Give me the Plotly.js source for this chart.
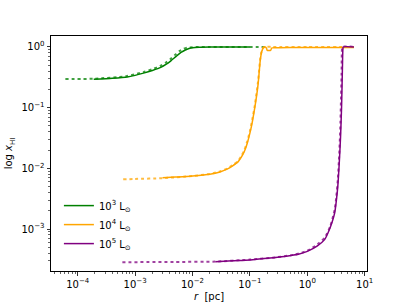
<!DOCTYPE html>
<html><head><meta charset="utf-8">
<script src="https://cdn.plot.ly/plotly-3.0.1.min.js"></script>
<style>html,body{margin:0;padding:0;background:#fff}#chart{width:407px;height:305px}</style>
</head><body><div id="chart"></div>
<script>
// 10^3 Lsun
const r1 = [1.9e-4, 4e-4, 7.3e-4, 1.0e-3, 1.4e-3, 2.0e-3, 2.8e-3, 3.5e-3, 4.2e-3, 5.2e-3, 6.3e-3, 7.5e-3, 8.7e-3, 1.0e-2, 1.3e-2, 0.02, 0.05, 0.1];
const x1 = [0.293, 0.305, 0.32, 0.34, 0.37, 0.41, 0.46, 0.52, 0.59, 0.70, 0.81, 0.89, 0.94, 0.97, 0.99, 1.0, 1.0, 1.0];
const r1d = [6.1e-5, 2e-4, 7e-4, 1.4e-3, 2.0e-3, 2.8e-3, 3.5e-3, 4.2e-3, 5.0e-3, 6.0e-3, 7.0e-3, 8.0e-3, 1.0e-2, 0.02, 0.2];
const x1d = [0.295, 0.30, 0.33, 0.385, 0.43, 0.49, 0.56, 0.64, 0.74, 0.86, 0.93, 0.97, 0.99, 1.0, 1.0];
// 10^4 Lsun
const r2 = [3.0e-3, 5e-3, 0.01, 0.02, 0.03, 0.04, 0.05, 0.062, 0.07, 0.08, 0.09, 0.1, 0.11, 0.12, 0.13, 0.138, 0.145, 0.15, 0.158, 0.166, 0.175, 0.185, 0.195, 0.2, 0.23, 0.24, 0.27, 0.5, 1.0, 6.5];
const x2 = [0.0070, 0.0072, 0.0075, 0.0080, 0.0087, 0.0097, 0.0110, 0.0128, 0.0150, 0.0190, 0.026, 0.038, 0.058, 0.093, 0.15, 0.23, 0.38, 0.55, 0.78, 0.91, 0.99, 1.0, 0.95, 0.88, 0.88, 0.96, 0.97, 0.98, 0.98, 0.98];
const r2d = [6.2e-4, 1e-3, 3.0e-3, 0.01, 0.02, 0.03, 0.04, 0.05, 0.062, 0.07, 0.08, 0.09, 0.1, 0.11, 0.12, 0.13, 0.138, 0.145, 0.15, 0.158, 0.166, 0.18, 0.25, 1.0, 6.5];
const x2d = [0.0066, 0.0067, 0.0069, 0.0075, 0.0081, 0.0089, 0.0099, 0.0113, 0.0132, 0.0157, 0.020, 0.028, 0.041, 0.064, 0.10, 0.17, 0.26, 0.42, 0.60, 0.82, 0.95, 1.0, 1.0, 1.0, 1.0];
// 10^5 Lsun
const r3 = [0.025, 0.05, 0.1, 0.2, 0.4, 0.7, 1.0, 1.5, 2.0, 2.3, 2.7, 3.0, 3.2, 3.4, 3.6, 3.8, 3.95, 4.03, 4.1, 4.17, 4.25, 6.5];
const x3 = [2.9e-4, 3.0e-4, 3.1e-4, 3.3e-4, 3.55e-4, 3.85e-4, 4.3e-4, 5.3e-4, 6.7e-4, 8.7e-4, 1.3e-3, 1.85e-3, 2.9e-3, 5.1e-3, 0.012, 0.034, 0.10, 0.23, 0.5, 0.92, 1.0, 1.0];
const r3d = [6e-4, 0.005, 0.025, 0.1, 0.3, 0.6, 1.0, 1.5, 2.0, 2.5, 3.0, 3.2, 3.4, 3.6, 3.75, 3.85, 3.95, 4.0, 4.1, 6.5];
const x3d = [2.85e-4, 2.88e-4, 2.92e-4, 3.15e-4, 3.45e-4, 3.8e-4, 4.4e-4, 5.6e-4, 7.2e-4, 1.1e-3, 2.1e-3, 3.4e-3, 6.5e-3, 0.017, 0.045, 0.12, 0.35, 0.8, 1.0, 1.0];

const names = ['10<sup>3</sup> L<sub>⊙</sub>', '10<sup>4</sup> L<sub>⊙</sub>', '10<sup>5</sup> L<sub>⊙</sub>'];
const colors = ['green', 'orange', 'purple'];
const xTickVals = [1e-4, 1e-3, 1e-2, 1e-1, 1, 10];
const xTickText = ['10<sup>−4</sup>', '10<sup>−3</sup>', '10<sup>−2</sup>', '10<sup>−1</sup>', '10<sup>0</sup>', '10<sup>1</sup>'];
const yTickVals = [1e-3, 1e-2, 1e-1, 1];
const yTickText = ['10<sup>−3</sup>', '10<sup>−2</sup>', '10<sup>−1</sup>', '10<sup>0</sup>'];

const solids = [[r1, x1], [r2, x2], [r3, x3]];
const dots = [[r1d, x1d], [r2d, x2d], [r3d, x3d]];
const traces = [];
dots.forEach((d, i) => traces.push({x: d[0], y: d[1], mode: 'lines', showlegend: false,
  line: {color: colors[i], width: 2, dash: 'dot', shape: 'spline', smoothing: 0.6}, opacity: 0.75, hoverinfo: 'skip'}));
solids.forEach((d, i) => traces.push({x: d[0], y: d[1], mode: 'lines', name: names[i],
  line: {color: colors[i], width: 1.5, shape: 'spline', smoothing: 0.6}}));

function minorVals(lo, hi) {
  const v = [];
  for (let e = lo; e <= hi; e++) for (let k = 2; k <= 9; k++) v.push(k * Math.pow(10, e));
  return v;
}

const font = {family: 'DejaVu Sans', size: 10, color: '#000'};
const layout = {
  width: 407, height: 305,
  margin: {l: 51, r: 40, t: 36, b: 34},
  paper_bgcolor: '#fff', plot_bgcolor: '#fff',
  font: font,
  showlegend: true,
  legend: {x: 0.025, y: 0.34, xanchor: 'left', yanchor: 'top', bgcolor: 'rgba(0,0,0,0)',
    font: {family: 'DejaVu Sans', size: 10, color: '#000'}, tracegroupgap: 0},
  xaxis: {type: 'log', range: [-4.465, 1.04], showgrid: false, zeroline: false,
    showline: true, mirror: true, linecolor: '#000', linewidth: 1,
    ticks: 'outside', ticklen: 3.5, tickwidth: 0.8, tickcolor: '#000',
    tickvals: xTickVals, ticktext: xTickText, tickfont: font,
    minor: {tickvals: minorVals(-5, 1), ticks: 'outside', ticklen: 2, tickwidth: 0.6, tickcolor: '#000', showgrid: false},
    title: {text: '<i>r</i>  [pc]', font: font, standoff: 4}},
  yaxis: {type: 'log', range: [-3.69, 0.18], showgrid: false, zeroline: false,
    showline: true, mirror: true, linecolor: '#000', linewidth: 1,
    ticks: 'outside', ticklen: 3.5, tickwidth: 0.8, tickcolor: '#000',
    tickvals: yTickVals, ticktext: yTickText, tickfont: font,
    minor: {tickvals: minorVals(-4, 0), ticks: 'outside', ticklen: 2, tickwidth: 0.6, tickcolor: '#000', showgrid: false},
    title: {text: 'log <i>x</i><sub>HI</sub>', font: font, standoff: 6}}
};
Plotly.newPlot('chart', traces, layout, {displayModeBar: false, staticPlot: true});
</script></body></html>
